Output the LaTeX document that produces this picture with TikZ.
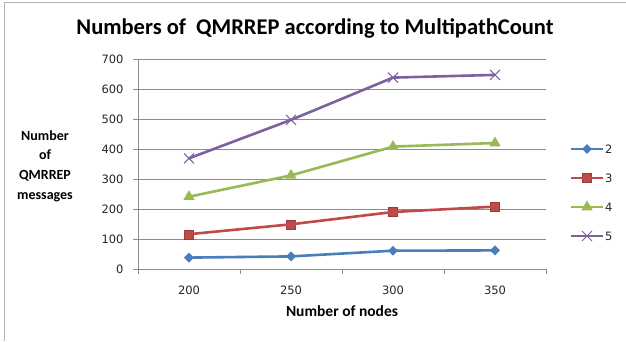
\documentclass[tikz,border=0pt]{standalone}
\usepackage{fontspec}
\setmainfont{Carlito}
\newfontfamily\numfont{DejaVu Sans}
\usetikzlibrary{shapes.geometric,shapes.misc}

\definecolor{serA}{HTML}{4A7EBB}
\definecolor{serB}{HTML}{BE4B48}
\definecolor{serC}{HTML}{98B954}
\definecolor{serD}{HTML}{7D60A0}
\definecolor{gridgray}{HTML}{8C8C8C}

\tikzset{
  gridline/.style={draw=gridgray, line width=0.7pt},
  ticklabel/.style={font=\numfont\fontsize{11.5}{11.5}\selectfont, text=black!85, inner sep=0pt},
  lineA/.style={draw=serA, line width=2.6pt},
  lineB/.style={draw=serB, line width=2.6pt},
  lineC/.style={draw=serC, line width=2.6pt},
  lineD/.style={draw=serD, line width=2.6pt},
  mkA/.style={diamond, fill=serA, inner sep=0pt, minimum size=10pt},
  mkB/.style={rectangle, fill=serB, draw=serB!80!black, inner sep=0pt, minimum size=9pt},
  mkC/.style={regular polygon, regular polygon sides=3, fill=serC, inner sep=0pt, minimum size=13pt},
  mkD/.style={cross out, draw=serD, line width=1pt, inner sep=0pt, minimum size=9pt}
}

\begin{document}
\begin{tikzpicture}[x=1pt, y=-1pt]
  \useasboundingbox (0,0) rectangle (626,341);
  \fill[white] (0,0) rectangle (626,341);
  \draw[gray!60, line width=1pt] (4,341) -- (4,2) -- (626,2);

  \node[font=\fontsize{22.5}{22.5}\selectfont\bfseries] (title) at (315,28)
    {Numbers of \ QMRREP according to MultipathCount};

  \node[font=\fontsize{14}{19.7}\selectfont\bfseries, align=center] (ytitle) at (45,166)
    {Number\\of\\QMRREP\\messages};
  \node[font=\fontsize{15.5}{15.5}\selectfont\bfseries] (xtitle) at (342,311) {Number of nodes};

  \begin{scope}[shift={(138,269)}, x=102pt, y=0.3pt]
    % grid
    \draw[gridline] (0,100) -- (4,100);
    \draw[gridline] (0,200) -- (4,200);
    \draw[gridline] (0,300) -- (4,300);
    \draw[gridline] (0,400) -- (4,400);
    \draw[gridline] (0,500) -- (4,500);
    \draw[gridline] (0,600) -- (4,600);
    \draw[gridline] (0,700) -- (4,700);
    \draw[gridline] (-0.05,0) -- (4,0);
    \draw[gridline] (0,-17) -- (0,700);
    \draw[gridline] (-0.05,100) -- (0,100);
    \draw[gridline] (-0.05,200) -- (0,200);
    \draw[gridline] (-0.05,300) -- (0,300);
    \draw[gridline] (-0.05,400) -- (0,400);
    \draw[gridline] (-0.05,500) -- (0,500);
    \draw[gridline] (-0.05,600) -- (0,600);
    \draw[gridline] (-0.05,700) -- (0,700);
    \draw[gridline] (1,0) -- (1,-17);
    \draw[gridline] (2,0) -- (2,-17);
    \draw[gridline] (3,0) -- (3,-17);
    \draw[gridline] (4,0) -- (4,-17);

    % axis labels
    \node[ticklabel, anchor=east] (y0) at (-0.14,0) {0};
    \node[ticklabel, anchor=east] (y1) at (-0.14,100) {100};
    \node[ticklabel, anchor=east] (y2) at (-0.14,200) {200};
    \node[ticklabel, anchor=east] (y3) at (-0.14,300) {300};
    \node[ticklabel, anchor=east] (y4) at (-0.14,400) {400};
    \node[ticklabel, anchor=east] (y5) at (-0.14,500) {500};
    \node[ticklabel, anchor=east] (y6) at (-0.14,600) {600};
    \node[ticklabel, anchor=east] (y7) at (-0.14,700) {700};
    \node[ticklabel] (x1) at (0.5,-70) {200};
    \node[ticklabel] (x2) at (1.5,-70) {250};
    \node[ticklabel] (x3) at (2.5,-70) {300};
    \node[ticklabel] (x4) at (3.5,-70) {350};

    % MultipathCount 2
    \node[mkA] (a1) at (0.5,38) {};
    \node[mkA] (a2) at (1.5,42) {};
    \node[mkA] (a3) at (2.5,61) {};
    \node[mkA] (a4) at (3.5,62) {};
    \draw[lineA] (a1.center) -- (a2.center) -- (a3.center) -- (a4.center);

    % MultipathCount 3
    \node[mkB] (b1) at (0.5,116) {};
    \node[mkB] (b2) at (1.5,149) {};
    \node[mkB] (b3) at (2.5,190) {};
    \node[mkB] (b4) at (3.5,208) {};
    \draw[lineB] (b1.center) -- (b2.center) -- (b3.center) -- (b4.center);

    % MultipathCount 4
    \node[mkC] (c1) at (0.5,241) {};
    \node[mkC] (c2) at (1.5,312) {};
    \node[mkC] (c3) at (2.5,408) {};
    \node[mkC] (c4) at (3.5,420) {};
    \draw[lineC] (c1.center) -- (c2.center) -- (c3.center) -- (c4.center);

    % MultipathCount 5
    \node[mkD] (d1) at (0.5,369) {};
    \node[mkD] (d2) at (1.5,497) {};
    \node[mkD] (d3) at (2.5,638) {};
    \node[mkD] (d4) at (3.5,647) {};
    \draw[lineD] (d1.center) -- (d2.center) -- (d3.center) -- (d4.center);
  \end{scope}

  % legend
  \node[mkA] (legA) at (587,149) {};
  \draw[lineA] ([xshift=-16pt]legA.center) -- ([xshift=16pt]legA.center);
  \node[ticklabel, anchor=west] (labA) at (605,149) {2};
  \node[mkB] (legB) at (587,178) {};
  \draw[lineB] ([xshift=-16pt]legB.center) -- ([xshift=16pt]legB.center);
  \node[ticklabel, anchor=west] (labB) at (605,178) {3};
  \node[mkC] (legC) at (587,207) {};
  \draw[lineC] ([xshift=-16pt]legC.center) -- ([xshift=16pt]legC.center);
  \node[ticklabel, anchor=west] (labC) at (605,207) {4};
  \node[mkD] (legD) at (587,236) {};
  \draw[lineD] ([xshift=-16pt]legD.center) -- ([xshift=16pt]legD.center);
  \node[ticklabel, anchor=west] (labD) at (605,236) {5};
\end{tikzpicture}
\end{document}
